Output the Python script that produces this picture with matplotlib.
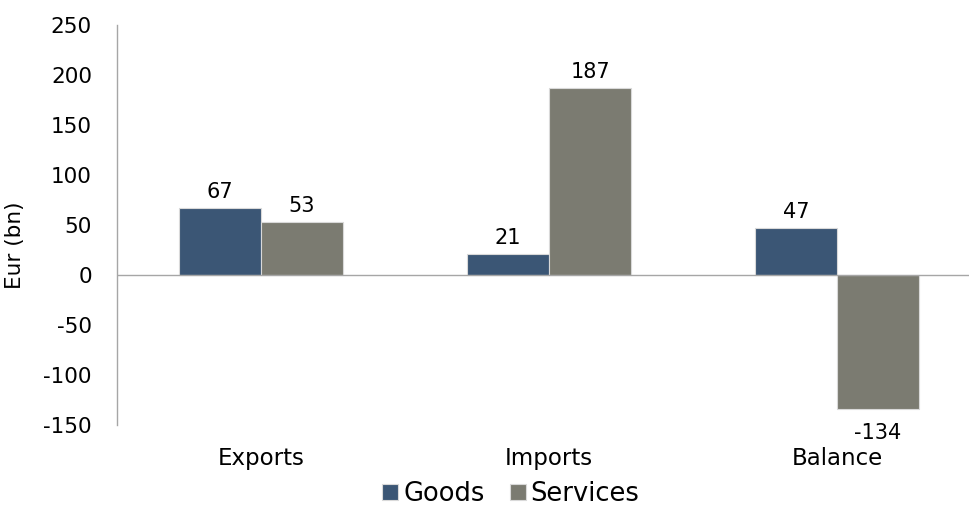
import numpy as np
import matplotlib.pyplot as plt

plt.rcParams["axes.unicode_minus"] = False

# Данные
categories = ["Exports", "Imports", "Balance"]
goods = [67, 21, 47]
services = [53, 187, -134]

goods_color = "#3b5675"
services_color = "#7b7b71"

fig = plt.figure(figsize=(9.69, 5.07), dpi=100)
ax = fig.add_axes([117 / 969, 1 - 425 / 507, 864 / 969, 400 / 507])

x = np.arange(len(categories))
w = 0.285

b1 = ax.bar(x - w / 2, goods, w, color=goods_color, edgecolor="#d9d9d9",
            linewidth=0.8, label="Goods", zorder=2)
b2 = ax.bar(x + w / 2, services, w, color=services_color, edgecolor="#d9d9d9",
            linewidth=0.8, label="Services", zorder=2)

# Подписи значений
for bars in (b1, b2):
    for rect in bars:
        h = rect.get_height()
        cx = rect.get_x() + rect.get_width() / 2
        if h >= 0:
            ax.annotate(f"{h:.0f}", (cx, h), xytext=(0, 4), textcoords="offset points",
                        ha="center", va="bottom", fontsize=15)
        else:
            ax.annotate(f"{h:.0f}", (cx, h), xytext=(0, -10), textcoords="offset points",
                        ha="center", va="top", fontsize=15)

ax.set_xlim(-0.5, 2.5)
ax.set_ylim(-150, 250)
ax.set_yticks(range(-150, 251, 50))
ax.tick_params(axis="y", length=0, labelsize=15.5, pad=18)
ax.tick_params(axis="x", length=0, labelsize=16.5, pad=0)
ax.set_xticks(x)
ax.set_xticklabels(categories)
for lbl in ax.get_xticklabels():
    lbl.set_y(-0.055)

ax.axhline(0, color="#a6a6a6", linewidth=1, zorder=3)
for s in ("top", "right", "bottom"):
    ax.spines[s].set_visible(False)
ax.spines["left"].set_color("#a6a6a6")
ax.spines["left"].set_linewidth(1)

ax.set_ylabel("Eur (bn)", fontsize=15.5)
ax.yaxis.set_label_coords(-92 / 864, 0.45)

fig.legend(handles=[b1, b2], labels=["Goods", "Services"], loc="center",
           bbox_to_anchor=(511 / 969, 1 - 494 / 507), ncol=2, frameon=False,
           fontsize=18.5, handlelength=0.6, handleheight=0.6, handletextpad=0.2,
           columnspacing=1.0)

fig.savefig("out.png", dpi=100)
